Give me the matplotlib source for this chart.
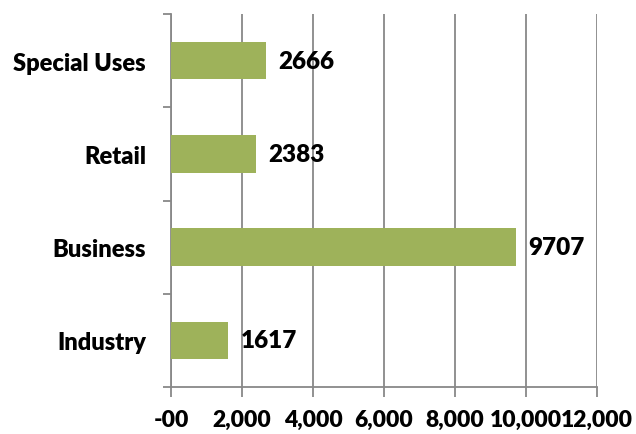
import matplotlib.pyplot as plt
import numpy as np

plt.rcParams['font.family'] = ['Lato', 'DejaVu Sans']

categories = ['Industry', 'Business', 'Retail', 'Special Uses']
values = [1617, 9707, 2383, 2666]
x_ticks = [0, 2000, 4000, 6000, 8000, 10000, 12000]
x_tick_labels = ['-00', '2,000', '4,000', '6,000', '8,000', '10,000', '12,000']

bar_color = '#9EB25A'
grid_color = '#888888'

fig = plt.figure(figsize=(6.36, 4.35), dpi=100)
ax = fig.add_axes([0.2689, 0.108, 0.67, 0.8575])

pos = np.arange(len(categories))
bars = ax.barh(pos, values, height=0.4, color=bar_color, zorder=3)

for b, v in zip(bars, values):
    ax.annotate(str(v), (b.get_width(), b.get_y() + b.get_height() / 2),
                xytext=(9, 0), textcoords='offset points',
                ha='left', va='center', fontsize=17.5, fontweight='heavy', zorder=4)

ax.set_xlim(0, 12000)
ax.set_ylim(-0.5, len(categories) - 0.5)

ax.set_xticks(x_ticks)
ax.set_xticklabels(x_tick_labels, fontsize=16.5, fontweight='heavy')
ax.tick_params(axis='x', length=7, width=1.3, color=grid_color, pad=9)
ax.xaxis.grid(True, color=grid_color, linewidth=1.3, zorder=0)

# category labels at the centres, tick marks at the boundaries
ax.set_yticks(pos)
ax.set_yticklabels(categories, fontsize=17, fontweight='heavy')
ax.tick_params(axis='y', which='major', length=0, pad=18)
ax.set_yticks(np.arange(-0.5, len(categories)), minor=True)
ax.tick_params(axis='y', which='minor', length=6, width=1.3, color=grid_color)

for side in ['top', 'right']:
    ax.spines[side].set_visible(False)
for side in ['left', 'bottom']:
    ax.spines[side].set_color(grid_color)
    ax.spines[side].set_linewidth(1.3)

fig.savefig('out.png', dpi=100)
